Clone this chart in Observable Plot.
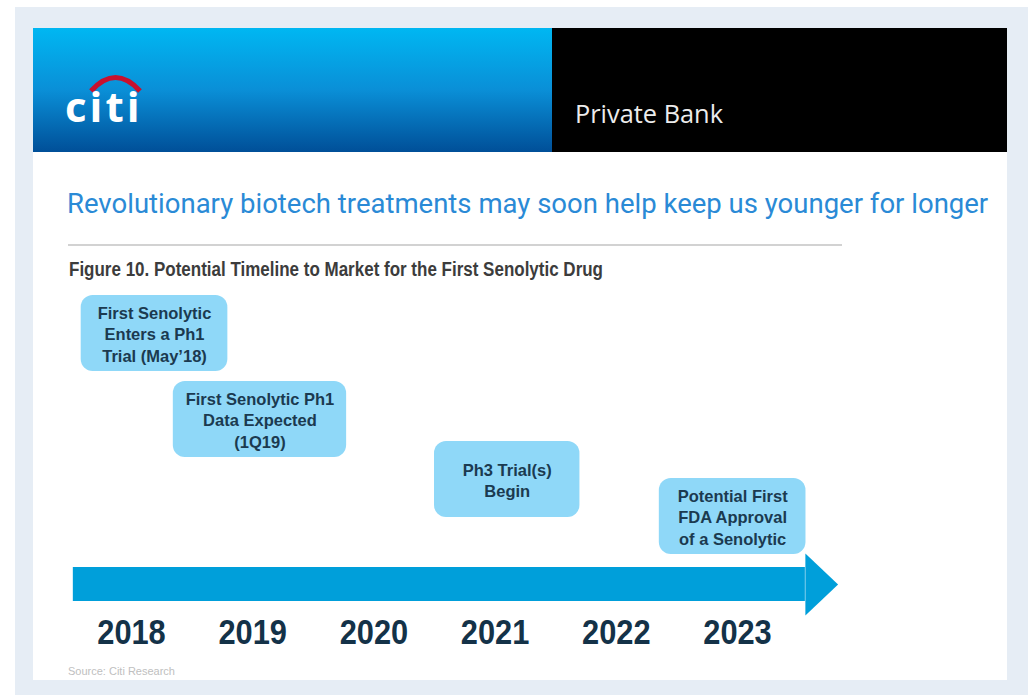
<!DOCTYPE html>
<html><head><meta charset="utf-8">
<script src="https://cdn.jsdelivr.net/npm/d3@7"></script>
<script src="https://cdn.jsdelivr.net/npm/@observablehq/plot@0.6"></script>
<style>
body{margin:0;width:1028px;height:695px;overflow:hidden;background:#fff;position:relative;font-family:"Open Sans",sans-serif}
#outer{position:absolute;left:15px;top:7px;width:1013px;height:688px;background:#e6edf5}
#panel{position:absolute;left:33px;top:28px;width:974px;height:652px;background:#fff;overflow:hidden}
#hdrBlue{position:absolute;left:0;top:0;width:519px;height:124px;background:linear-gradient(#00b7f2 0%,#0a8fd7 50%,#004f98 100%)}
#hdrBlack{position:absolute;left:519px;top:0;width:455px;height:124px;background:#000}
#logo{position:absolute;left:0;top:0}
.t{position:absolute;white-space:nowrap;line-height:1}
#pb{left:542px;top:73px;color:#ececec;font-family:"Open Sans",sans-serif;font-size:24px}
#title{left:34px;top:162px;color:#2a8ad6;font-family:Roboto,"Open Sans",sans-serif;font-size:25px}
#rule{position:absolute;left:35px;top:216px;width:774px;height:2px;background:#d2d2d2}
#cap{left:36px;top:232px;color:#3c3c3c;font-family:"Liberation Sans",Arial,sans-serif;font-weight:bold;font-size:19.5px;transform-origin:0 0}
#src{left:35px;top:638px;color:#c0c0c0;font-family:"Liberation Sans",Arial,sans-serif;font-size:11px}
#chart{position:absolute;left:0;top:252px}
</style></head>
<body>
<div id="outer"></div>
<div id="panel">
  <div id="hdrBlue"></div>
  <div id="hdrBlack"></div>
  <svg id="logo" width="200" height="124">
    <path d="M58,63 Q82.5,36 107,63" fill="none" stroke="#c8102e" stroke-width="5"/>
    <text x="32" y="94" fill="#fff" font-family="Open Sans" font-weight="700" font-size="42" letter-spacing="3">citi</text>
  </svg>
  <div class="t" id="pb">Private Bank</div>
  <div class="t" id="title">Revolutionary biotech treatments may soon help keep us younger for longer</div>
  <div id="rule"></div>
  <div class="t" id="cap">Figure 10. Potential Timeline to Market for the First Senolytic Drug</div>
  <div class="t" id="src">Source: Citi Research</div>
  <div id="chart"></div>
</div>
<script>
// ---- data ----
const years = [2018, 2019, 2020, 2021, 2022, 2023];
const eventLabels = [
  "First Senolytic\nEnters a Ph1\nTrial (May\u201918)",
  "First Senolytic Ph1\nData Expected\n(1Q19)",
  "Ph3 Trial(s)\nBegin",
  "Potential First\nFDA Approval\nof a Senolytic"
];
const eventDates = [2018.19, 2019.06, 2021.10, 2022.96];

// ---- layout (not data) ----
const boxWidthYears = [1.21, 1.43, 1.20, 1.21];
const boxTop = [295, 381, 441, 478];
const boxHeight = 76;
const arrowStart = 2017.52, arrowHeadBase = 2023.56, arrowTip = 2023.83;
const arrowBody = [567, 601], arrowHead = [553, 584, 615];
const yearBaseline = 643;

const events = eventLabels.map((label, i) => ({
  label, date: eventDates[i], w: boxWidthYears[i], top: boxTop[i]
}));

const boxFill = "#8fd8f8", arrowFill = "#009fda";

const chart = Plot.plot({
  width: 974, height: 400,
  marginLeft: 98, marginRight: 270, marginTop: 0, marginBottom: 0,
  x: {domain: [2018, 2023], axis: null},
  y: {domain: [680, 280], axis: null},
  style: {overflow: "visible", background: "transparent"},
  marks: [
    Plot.rect(events, {x1: d => d.date - d.w / 2, x2: d => d.date + d.w / 2,
      y1: d => d.top, y2: d => d.top + boxHeight, fill: boxFill, rx: 12}),
    Plot.text(events, {x: "date", y: d => d.top + boxHeight / 2, text: "label",
      fontSize: 16.5, fontWeight: "bold", fontFamily: "Liberation Sans, Arial, sans-serif",
      lineHeight: 1.3, fill: "#1b3a50"}),
    Plot.rect([0], {x1: arrowStart, x2: arrowHeadBase, y1: arrowBody[0], y2: arrowBody[1], fill: arrowFill}),
    Plot.line([[arrowHeadBase, arrowHead[0]], [arrowTip, arrowHead[1]], [arrowHeadBase, arrowHead[2]]],
      {x: d => d[0], y: d => d[1], fill: arrowFill, stroke: "none"}),
    Plot.text(years, {x: d => d, y: yearBaseline, text: d => String(d), lineAnchor: "bottom",
      fontSize: 35, fontWeight: "bold",
      fontFamily: "Liberation Sans, Arial, sans-serif",
      fill: "#143248"})
  ]
});
// condense the year labels horizontally (narrow bold face)
const textGroups = chart.querySelectorAll('g[aria-label="text"]');
textGroups[textGroups.length - 1].querySelectorAll("text").forEach(t => {
  t.setAttribute("transform", (t.getAttribute("transform") || "") + " scale(0.88,1)");
});
document.getElementById("chart").appendChild(chart);

function fit(id, w) {
  const el = document.getElementById(id);
  const cur = el.getBoundingClientRect().width;
  const fs = parseFloat(getComputedStyle(el).fontSize);
  el.style.fontSize = (fs * w / cur) + "px";
}
function squeeze(id, w) {
  const el = document.getElementById(id);
  const cur = el.getBoundingClientRect().width;
  el.style.transform = "scaleX(" + (w / cur) + ")";
}
fit("title", 922);
squeeze("cap", 534);
fit("pb", 148);
</script>
</body></html>
